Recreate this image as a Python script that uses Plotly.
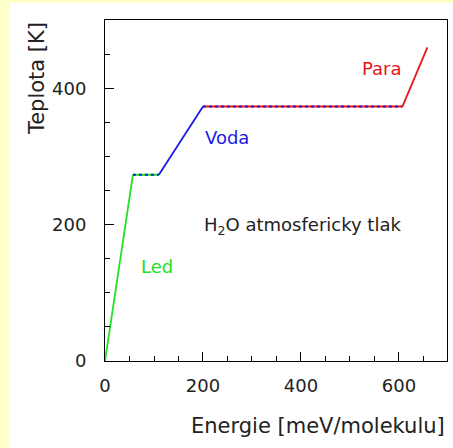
import plotly.graph_objects as go

# Data
led_x = [0, 57]
led_y = [0, 273]
melt_x = [57, 110]
melt_y = [273, 273]
voda_x = [110, 200]
voda_y = [273, 373]
boil_x = [200, 607]
boil_y = [373, 373]
para_x = [607, 658]
para_y = [373, 460]

labels = [
    ("Para", 565, 429, "#e8141a"),
    ("Voda", 249, 328, "#1a1ae6"),
    ("Led", 106, 139, "#22e022"),
    ("H<sub>2</sub>O atmosfericky tlak", 404, 198, "#222222"),
]

GREEN = "#22e022"
BLUE = "#1a1ae6"
RED = "#e8141a"

fig = go.Figure()
fig.add_trace(go.Scatter(x=led_x, y=led_y, mode="lines", line=dict(color=GREEN, width=1.8)))
fig.add_trace(go.Scatter(x=melt_x, y=melt_y, mode="lines", line=dict(color=GREEN, width=2)))
fig.add_trace(go.Scatter(x=melt_x, y=melt_y, mode="lines", line=dict(color=BLUE, width=2, dash="3px,3px")))
fig.add_trace(go.Scatter(x=voda_x, y=voda_y, mode="lines", line=dict(color=BLUE, width=1.8)))
fig.add_trace(go.Scatter(x=boil_x, y=boil_y, mode="lines", line=dict(color=RED, width=2)))
fig.add_trace(go.Scatter(x=boil_x, y=boil_y, mode="lines", line=dict(color=BLUE, width=2, dash="3px,3px")))
fig.add_trace(go.Scatter(x=para_x, y=para_y, mode="lines", line=dict(color=RED, width=1.8)))

for txt, x, y, c in labels:
    fig.add_annotation(x=x, y=y, text=txt, showarrow=False, xref="x", yref="y",
                       font=dict(family="DejaVu Sans", size=18, color=c))

font = dict(family="DejaVu Sans", size=18, color="#222222")
fig.update_layout(
    width=453, height=448,
    margin=dict(l=105, r=6, t=20, b=87),
    paper_bgcolor="#ffffcc",
    plot_bgcolor="white",
    showlegend=False,
    font=font,
    shapes=[dict(type="rect", xref="paper", yref="paper", x0=-95/342, x1=1+6/342,
                 y0=-87/341, y1=1+17/341, fillcolor="white", line=dict(width=0), layer="below")],
)
fig.update_xaxes(range=[0, 698], tickvals=[0, 200, 400, 600], ticks="inside", ticklen=9,
                 showgrid=False, zeroline=False, showline=True, linecolor="black", linewidth=1,
                 mirror=True, tickcolor="black", tickfont=font, ticklabelstandoff=8,
                 minor=dict(dtick=50, tick0=0, ticks="inside", ticklen=5, tickcolor="black"))
fig.update_yaxes(range=[0, 500], tickvals=[0, 200, 400], ticks="inside", ticklen=9,
                 showgrid=False, zeroline=False, showline=True, linecolor="black", linewidth=1,
                 mirror=True, tickcolor="black", tickfont=font, ticklabelstandoff=14,
                 minor=dict(dtick=50, tick0=0, ticks="inside", ticklen=5, tickcolor="black"))

fig.add_annotation(text="Energie [meV/molekulu]", xref="paper", yref="paper", x=1.0, y=-0.19,
                   xanchor="right", yanchor="middle", showarrow=False,
                   font=dict(family="DejaVu Sans", size=21, color="#222222"))
fig.add_annotation(text="Teplota [K]", xref="paper", yref="paper", x=-0.2, y=1.0,
                   xanchor="center", yanchor="top", textangle=-90, showarrow=False,
                   font=dict(family="DejaVu Sans", size=21, color="#222222"))

fig.write_html("out.html")
